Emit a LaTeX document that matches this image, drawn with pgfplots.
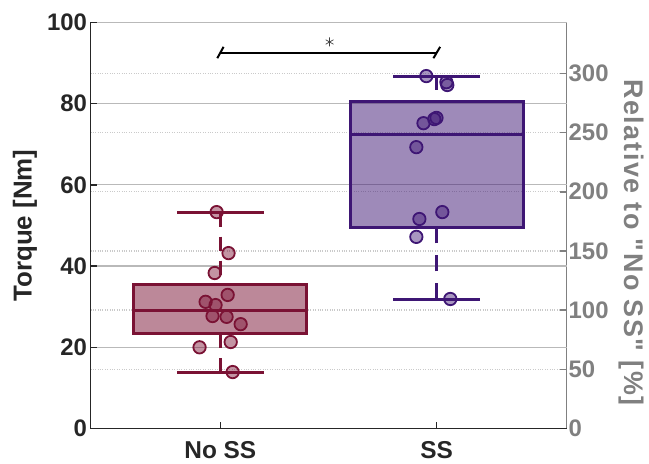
\documentclass[border=0pt]{standalone}
\usepackage{fontspec}
\setmainfont{Liberation Sans}[Ligatures=TeXOff]
\newfontfamily\rfont{Liberation Sans}[Ligatures=TeXOff, LetterSpace=6]
\usepackage{pgfplots}
\pgfplotsset{compat=1.18}
\definecolor{nred}{RGB}{122,18,52}
\definecolor{spur}{RGB}{62,22,116}
\definecolor{gridc}{RGB}{185,185,185}
\definecolor{raxis}{RGB}{128,128,128}
\newcommand\tfont{\fontsize{24}{28}\selectfont\bfseries}
\newcommand\lfont{\fontsize{26}{30}\selectfont\bfseries}
\newcommand\rlfont{\rfont\fontsize{27}{31}\selectfont\bfseries}
\begin{document}
\begin{tikzpicture}
\useasboundingbox (-90.5bp,-35.5bp) rectangle (558.5bp,428.5bp);
% right axis (relative)
\begin{axis}[
  scale only axis, width=476bp, height=406bp,
  xmin=0.4, xmax=2.6, ymin=0, ymax=343,
  axis x line=none, axis y line*=right,
  ytick={0,50,100,150,200,250,300},
  ymajorgrids, major grid style={gridc!75, dotted, line width=1.3bp},
  y axis line style={raxis, line width=1.5bp},
  ytick style={raxis, line width=1.5bp},
  tick align=inside, major tick length=7bp,
  /pgf/number format/assume math mode=true,
  yticklabel style={raxis, font=\tfont, inner xsep=2bp},
  ylabel={Relative to "No SS" [\%]},
  every axis y label/.style={at={(axis description cs:1.1355,0.458)}, rotate=-90, anchor=center, inner sep=0pt, font=\rlfont, text=raxis},
]
\addplot[draw=none] coordinates {(1,0)};
\end{axis}
% left axis (torque)
\begin{axis}[
  scale only axis, width=476bp, height=406bp,
  xmin=0.4, xmax=2.6, ymin=0, ymax=100,
  xtick={1,2}, xticklabels={No SS,SS},
  ytick={0,20,40,60,80,100},
  ymajorgrids, major grid style={gridc, line width=1.2bp},
  axis y line*=left, axis x line*=bottom,
  axis line style={black!85, line width=1.5bp},
  tick style={black!85, line width=1.5bp},
  tick align=inside, major tick length=7bp,
  /pgf/number format/assume math mode=true,
  tick label style={font=\tfont, text=black!85},
  xticklabel style={font=\fontsize{24.5}{28}\selectfont\bfseries, yshift=-9bp},
  ylabel={Torque [Nm]},
  every axis y label/.style={at={(axis description cs:-0.1376,0.5)}, rotate=90, anchor=center, font=\lfont, text=black!85},
  clip=false,
]
% --- No SS box ---
\addplot[draw=nred, line width=3bp, fill=nred, fill opacity=0.5] coordinates {(0.6,23.4) (1.4,23.4) (1.4,35.5) (0.6,35.5)} -- cycle;
\addplot[nred, line width=3bp] coordinates {(0.6,29.0) (1.4,29.0)};
\addplot[nred, line width=3bp, dash pattern=on 14bp off 10bp] coordinates {(1,53.2) (1,35.5)};
\addplot[nred, line width=3bp, dash pattern=on 14bp off 10bp] coordinates {(1,13.9) (1,23.4)};
\addplot[nred, line width=3bp] coordinates {(0.8,53.2) (1.2,53.2)};
\addplot[nred, line width=3bp] coordinates {(0.8,13.9) (1.2,13.9)};
% --- SS box ---
\addplot[draw=spur, line width=3bp, fill=spur, fill opacity=0.5] coordinates {(1.6,49.6) (2.4,49.6) (2.4,80.5) (1.6,80.5)} -- cycle;
\addplot[spur, line width=3bp] coordinates {(1.6,72.5) (2.4,72.5)};
\addplot[spur, line width=3bp, dash pattern=on 14bp off 10bp] coordinates {(2,86.8) (2,80.5)};
\addplot[spur, line width=3bp, dash pattern=on 16bp off 12bp] coordinates {(2,31.8) (2,49.6)};
\addplot[spur, line width=3bp] coordinates {(1.8,86.8) (2.2,86.8)};
\addplot[spur, line width=3bp] coordinates {(1.8,31.8) (2.2,31.8)};
% --- points ---
\addplot[only marks, mark=*, mark size=6.2bp, mark options={draw=nred, line width=1.8bp, fill=nred, fill opacity=0.45}] coordinates {
 (0.983,53.3) (1.038,43.2) (0.974,38.3) (1.034,32.9) (0.932,31.2) (0.978,30.4)
 (0.964,27.7) (1.029,27.5) (1.094,25.7) (1.048,21.3) (0.904,20.0) (1.057,13.9)};
\addplot[only marks, mark=*, mark size=6.2bp, mark options={draw=spur, line width=1.8bp, fill=spur, fill opacity=0.45}] coordinates {
 (1.952,86.8) (2.045,85.3) (2.049,84.6) (1.999,76.5) (1.989,76.2) (1.939,75.2)
 (1.906,69.3) (2.026,53.3) (1.920,51.6) (1.906,47.2) (2.063,31.9)};
% --- significance bracket ---
\addplot[black, line width=2bp] coordinates {(1,92.6) (2,92.6)};
\addplot[black, line width=2bp] coordinates {(0.986,91.2) (1.015,94.0)};
\addplot[black, line width=2bp] coordinates {(1.985,91.2) (2.016,94.0)};
\addplot[only marks, mark=asterisk, mark size=4.5bp, mark options={black!75, line width=0.7bp}] coordinates {(1.505,95.2)};
\end{axis}
\end{tikzpicture}
\end{document}
